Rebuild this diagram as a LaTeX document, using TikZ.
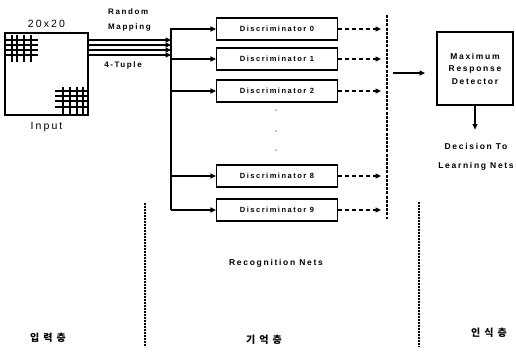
\documentclass[tikz,border=0pt]{standalone}
\usepackage{fontspec}
\setmainfont{Liberation Sans}
\newfontfamily\spfont[LetterSpace=20]{Liberation Sans}
\newfontfamily\kofont[LetterSpace=40]{Noto Sans CJK KR}
\usetikzlibrary{arrows.meta,positioning}

\tikzset{
  thick/.style={line width=1.2pt},
  disc/.style={draw,thick,fill=white,minimum width=121pt,minimum height=22pt,inner sep=0pt,
    font=\spfont\bfseries\fontsize{7.5}{8}\selectfont},
  lbl/.style={inner sep=0pt,font=\spfont\bfseries\fontsize{8}{15}\selectfont},
  big/.style={inner sep=0pt,font=\spfont\fontsize{10.5}{12}\selectfont},
  kor/.style={inner sep=0pt,font=\kofont\bfseries\fontsize{10}{11}\selectfont},
  sep/.style={line width=1.1pt,dash pattern=on 0.8pt off 0.7pt},
}

\begin{document}
\begin{tikzpicture}[x=1pt,y=-1pt,>={Triangle[length=5.5pt,width=5pt]}]
            \useasboundingbox (0,0) rectangle (516,352);
            % input field
            \node[draw,thick,minimum width=83pt,minimum height=82pt,inner sep=0pt] (input) at (46.5,74) {};
            \foreach \x in {12,17,24,31} \draw[thick] (\x,35) -- (\x,62);
            \foreach \y in {40,45,50,55} \draw[thick] (5,\y) -- (38,\y);
            \foreach \x in {63,70,77,83} \draw[thick] (\x,87) -- (\x,115);
            \foreach \y in {91,96,101,107} \draw[thick] (55,\y) -- (88,\y);
            \node[big,above=5pt of input] (size) {20x20};
            \node[big,below=6pt of input] (inlbl) {Input};
            % random mapping
            \node[lbl,anchor=west,align=left] (rmap) at (108,19.5) {Random\\Mapping};
            \node[lbl] (tuple) at (123,65) {4-Tuple};
            \coordinate (bustop) at (171,28);
            \coordinate (busbot) at (171,210);
            \draw[thick] (bustop) -- (busbot);
            \foreach \y in {40,45,50,55} \draw[thick,->] (input.east |- 0,\y) -- (bustop |- 0,\y);
            % discriminators
            \coordinate (dashend) at (381,0);
            \foreach \i/\y in {0/29,1/59,2/91,8/176,9/210} {
              \node[disc] (d\i) at (277,\y) {Discriminator \i};
              \draw[thick,->] (bustop |- d\i) -- (d\i.west);
              \draw[thick,dash pattern=on 4pt off 3pt,->] (d\i.east) -- (d\i.east -| dashend);
            }
            \foreach \y in {110,131,150} \fill (276,\y) circle (0.6);
            \coordinate (coltop) at (387,15);
            \coordinate (colbot) at (387,219);
            \draw[thick,dash pattern=on 3pt off 1.2pt] (coltop) -- (colbot);
            % detector
            \node[draw,thick,minimum width=76pt,minimum height=73pt,inner sep=0pt,align=center,
              font=\spfont\bfseries\fontsize{8.5}{12.5}\selectfont] (mrd) at (475,68.5) {Maximum\\Response\\Detector};
            \coordinate (mrdin) at (393,73);
            \draw[thick,->] (mrdin) -- (mrdin -| 425,0);
            \node[lbl,align=center,font=\spfont\bfseries\fontsize{8.5}{19}\selectfont] (dec) at (476,157) {Decision To\\Learning Nets};
            \draw[thick,->] (mrd.south) -- ++(0,24);
            % layers
            \node[lbl,font=\spfont\bfseries\fontsize{8.5}{9}\selectfont] (recog) at (276,263) {Recognition Nets};
            \draw[sep] (145,203) -- (145,347);
            \draw[sep] (419,202) -- (419,347);
            \node[kor] (l1) at (48,338) {입력층};
            \node[kor] (l2) at (264,340) {기억층};
            \node[kor] (l3) at (489,333) {인식층};
        \end{tikzpicture}
\end{document}
